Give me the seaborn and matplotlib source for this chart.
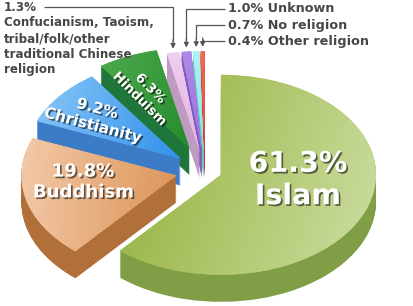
import numpy as np
import matplotlib
matplotlib.use("Agg")
import matplotlib.pyplot as plt
import matplotlib.patheffects as pe
from matplotlib.colors import to_rgb
import seaborn as sns

# ---- data ----
religions = ["Islam", "Buddhism", "Christianity", "Hinduism",
             "Confucianism, Taoism, tribal/folk/other traditional Chinese religion",
             "Unknown", "No religion", "Other religion"]
shares = [61.3, 19.8, 9.2, 6.3, 1.3, 1.0, 0.7, 0.4]
share_labels = ["61.3%", "19.8%", "9.2%", "6.3%", "1.3%", "1.0%", "0.7%", "0.4%"]

# ---- style ----
top_colors = ["#a9c466", "#e9ad82", "#58a8ee", "#3a9a3c", "#ecc2ec", "#a57ce6", "#a2eef0", "#f05a48"]
# gradient end colours for the top faces (start, end) and direction in pixels
grad_a = ["#9db84b", "#f3c9a8", "#82c2f7", "#4ba84c", "#f0cef0", "#b08ae8", "#b0f2f4", "#f46a58"]
grad_b = ["#c8da9a", "#dd965a", "#2f90ea", "#248c2c", "#e2b0e2", "#9a6ee0", "#8ae4e6", "#e84c3a"]
grad_dir = [(1, 0.35), (1, 0.15), (1, 0.3), (1, 0.6), (0, 1), (0, 1), (0, 1), (0, 1)]
side_colors = ["#809e45", "#b1703a", "#3c7cc6", "#1f763a", "#c09ac0", "#7a5cb8", "#70c2c4", "#c23a2e"]
explode = [0.11, 0.19, 0.2, 0.25, 0.2, 0.2, 0.2, 0.2]

sns.set_theme(style="white")
plt.rcParams['font.family'] = ['DejaVu Sans']

W, H = 414, 306
CX, CY, RX, RY, DEPTH = 205, 171, 155, 100, 27

fig = plt.figure(figsize=(W / 100, H / 100), dpi=100)
ax = fig.add_axes([0, 0, 1, 1])


def P(x, y):
    return ((x - CX) / RX, (CY - y) / RY)


depth = DEPTH / RY
for k in range(DEPTH, 0, -1):
    ax.pie(shares, explode=explode, startangle=90, counterclock=False,
           colors=side_colors, center=(0, -k * depth / DEPTH), radius=1,
           wedgeprops=dict(linewidth=0), frame=True)
wedges, _ = ax.pie(shares, explode=explode, startangle=90, counterclock=False,
                   colors=top_colors, center=(0, 0), radius=1,
                   wedgeprops=dict(linewidth=0), frame=True)

# gradient shading of the top faces, clipped to each wedge
for i, w in enumerate(wedges):
    cx, cy = w.center
    ext = (cx - 1.05, cx + 1.05, cy - 1.05, cy + 1.05)
    n = 120
    gx, gy = np.meshgrid(np.linspace(ext[0], ext[1], n), np.linspace(ext[3], ext[2], n))
    dx, dy = grad_dir[i]
    # direction given in pixel space (y down)
    proj = dx * gx * RX - dy * gy * RY
    verts = w.get_path().vertices
    pv = dx * verts[:, 0] * RX - dy * verts[:, 1] * RY
    t = np.clip((proj - pv.min()) / (pv.max() - pv.min() + 1e-9), 0, 1)
    ca, cb = np.array(to_rgb(grad_a[i])), np.array(to_rgb(grad_b[i]))
    img = ca[None, None, :] * (1 - t[..., None]) + cb[None, None, :] * t[..., None]
    im = ax.imshow(img, extent=ext, origin='upper', interpolation='bilinear', zorder=w.get_zorder() + 0.1)
    im.set_clip_path(w)

ax.set_aspect('auto')
x0, y0 = P(0, H)
x1, y1 = P(W, 0)
ax.set_xlim(x0, x1)
ax.set_ylim(y0, y1)
ax.axis('off')

shadow = [pe.withSimplePatchShadow(offset=(1.2, -1.2), shadow_rgbFace='black', alpha=0.55)]

# in-slice labels
ax.text(*P(298, 180), f"{share_labels[0]}\n{religions[0]}", color='white', fontsize=20.5,
        fontweight='bold', ha='center', va='center', multialignment='center', path_effects=shadow, zorder=5)
ax.text(*P(83, 182), f"{share_labels[1]}\n{religions[1]}", color='white', fontsize=13,
        fontweight='bold', ha='center', va='center', multialignment='center', path_effects=shadow, zorder=5)
ax.text(*P(95, 117), f"{share_labels[2]}\n{religions[2]}", color='white', fontsize=11,
        fontweight='bold', ha='center', va='center', multialignment='center', rotation=-15,
        rotation_mode='anchor', path_effects=shadow, zorder=5)
ax.text(*P(145, 94), f"{share_labels[3]}\n{religions[3]}", color='white', fontsize=9.5,
        fontweight='bold', ha='center', va='center', multialignment='center', rotation=-45,
        rotation_mode='anchor', path_effects=shadow, zorder=5)

# outside labels with leader arrows
txt_color = '#474747'
line_color = '#555555'
ax.text(*P(4, 1), f"{share_labels[4]}\nConfucianism, Taoism,\ntribal/folk/other\ntraditional Chinese\nreligion",
        color=txt_color, fontsize=8.6, fontweight='bold', ha='left', va='top', linespacing=1.25)
label_rows = {5: 9, 6: 25, 7: 41}
for i, yl in label_rows.items():
    ax.text(*P(228, yl), f"{share_labels[i]} {religions[i]}", color=txt_color, fontsize=9.2,
            fontweight='bold', ha='left', va='center')

starts = {4: (44, 7), 5: (225, 9), 6: (225, 25), 7: (225, 41)}
for i, (sx, sy) in starts.items():
    w = wedges[i]
    mid = np.deg2rad((w.theta1 + w.theta2) / 2)
    tx = w.center[0] + w.r * np.cos(mid)
    ty = w.center[1] + w.r * np.sin(mid) + 4 / RY
    px0, py0 = P(sx, sy)
    ax.plot([px0, tx, tx], [py0, py0, ty + 8 / RY], color=line_color, lw=0.9, solid_capstyle='butt')
    ax.annotate("", xy=(tx, ty), xytext=(tx, ty + 9 / RY),
                arrowprops=dict(arrowstyle='-|>', color=line_color, lw=0.9,
                                mutation_scale=7, shrinkA=0, shrinkB=0))

fig.savefig("out.png", dpi=100, facecolor='white')
